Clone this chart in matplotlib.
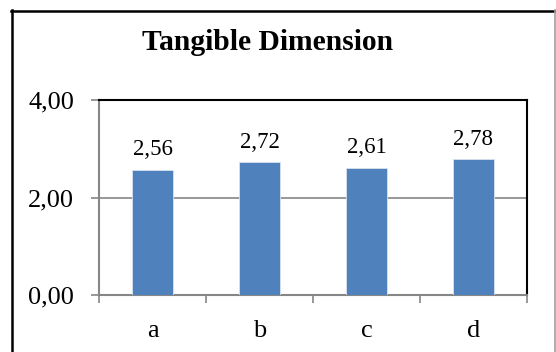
import matplotlib
matplotlib.use("Agg")
import matplotlib.pyplot as plt
from matplotlib.lines import Line2D

categories = ["a", "b", "c", "d"]
values = [2.56, 2.72, 2.61, 2.78]
value_labels = ["2,56", "2,72", "2,61", "2,78"]
y_ticks = [0, 2, 4]
y_tick_labels = ["0,00", "2,00", "4,00"]
title = "Tangible Dimension"

plt.rcParams["font.family"] = ["Liberation Serif", "DejaVu Serif"]

W, H = 556, 352
fig = plt.figure(figsize=(W / 100, H / 100), dpi=100)

# plot area in pixel coordinates
left, right, top, bottom = 99, 527, 100, 295
ax = fig.add_axes([left / W, (H - bottom) / H, (right - left) / W, (bottom - top) / H])

bar_color = "#4F81BD"
grid_color = "#868686"

x = list(range(len(categories)))
ax.bar(x, values, width=0.39, color=bar_color, edgecolor="#D9E2F0", linewidth=0.6, zorder=3)

for xi, v, lab in zip(x, values, value_labels):
    ax.annotate(lab, (xi, v), xytext=(0, 7), textcoords="offset points",
                ha="center", va="bottom", fontsize=16.5)

ax.set_xlim(-0.5, len(categories) - 0.5)
ax.set_ylim(0, 4)

ax.set_yticks(y_ticks)
ax.set_yticklabels(y_tick_labels, fontsize=19)
ax.tick_params(axis="y", direction="out", length=6, width=1.2, color=grid_color, pad=12)

# category boundary ticks (major) and centred labels (minor)
ax.set_xticks([i - 0.5 for i in range(len(categories) + 1)])
ax.set_xticklabels([])
ax.tick_params(axis="x", which="major", direction="out", length=6, width=1.2, color=grid_color)
ax.set_xticks(x, minor=True)
ax.set_xticklabels(categories, minor=True, fontsize=19)
ax.tick_params(axis="x", which="minor", length=0, pad=18)

ax.yaxis.grid(True, color=grid_color, linewidth=1.2, zorder=0)
ax.set_axisbelow(True)

for side in ("left", "bottom"):
    ax.spines[side].set_color(grid_color)
    ax.spines[side].set_linewidth(1.5)
for side in ("top", "right"):
    ax.spines[side].set_color("black")
    ax.spines[side].set_linewidth(1.5)

fig.text(268 / W, 1 - 50 / H, title, ha="center", va="baseline",
         fontsize=21.3, fontweight="bold")

# chart frame
def px_line(xs, ys, color, lw):
    fig.add_artist(Line2D([v / W for v in xs], [1 - v / H for v in ys],
                          transform=fig.transFigure, color=color, linewidth=lw))

px_line([11.5, 11.5], [10, H], "black", 1.8)
px_line([11, 555], [10.5, 10.5], "black", 1.8)
px_line([554.5, 554.5], [10, H], "#A0A0A0", 1.2)

fig.savefig("out.png", dpi=100)
